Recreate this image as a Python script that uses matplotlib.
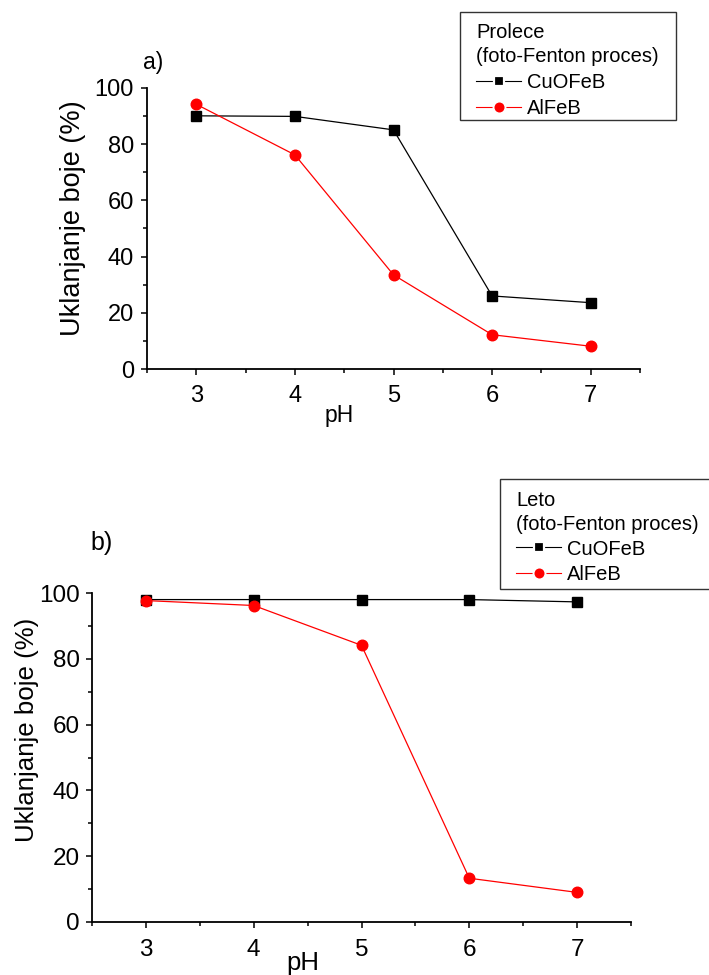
import matplotlib
matplotlib.use("Agg")
import matplotlib.pyplot as plt
from matplotlib.ticker import MultipleLocator
from matplotlib.lines import Line2D
from matplotlib.patches import Rectangle

plt.rcParams['font.family'] = ['Liberation Sans', 'DejaVu Sans']

# pH values on the x axis
ph = [3, 4, 5, 6, 7]

# a) Prolece (spring), photo-Fenton process: colour removal, %
cu_spring = [90.1, 89.9, 85.1, 26.0, 23.6]
al_spring = [94.2, 76.2, 33.5, 12.2, 8.1]

# b) Leto (summer), photo-Fenton process: colour removal, %
cu_summer = [98.0, 98.0, 98.0, 98.0, 97.3]
al_summer = [97.7, 96.2, 84.1, 13.3, 9.0]

series_names = ['CuOFeB', 'AlFeB']
legend_titles = ['Prolece\n(foto-Fenton proces)', 'Leto\n(foto-Fenton proces)']
panel_tags = ['a)', 'b)']
y_label = 'Uklanjanje boje (%)'
x_label = 'pH'

W, H = 709, 975
fig = plt.figure(figsize=(W / 100, H / 100), dpi=100)


def px_axes(left, top, right, bottom):
    return fig.add_axes([left / W, 1 - bottom / H, (right - left) / W, (bottom - top) / H])


def style_axes(ax, tick_fs, tick_pad_x, tick_pad_y):
    for side in ('top', 'right'):
        ax.spines[side].set_visible(False)
    for side in ('left', 'bottom'):
        ax.spines[side].set_linewidth(1.3)
    ax.set_xlim(2.5, 7.5)
    ax.set_ylim(0, 100)
    ax.xaxis.set_major_locator(MultipleLocator(1))
    ax.xaxis.set_minor_locator(MultipleLocator(0.5))
    ax.yaxis.set_major_locator(MultipleLocator(20))
    ax.yaxis.set_minor_locator(MultipleLocator(10))
    ax.tick_params(which='both', direction='out', width=1.1, labelsize=tick_fs)
    ax.tick_params(which='major', length=4.5)
    ax.tick_params(which='minor', length=2.8)
    ax.tick_params(axis='x', which='major', pad=tick_pad_x)
    ax.tick_params(axis='y', which='major', pad=tick_pad_y)


def draw_panel(ax, cu, al, title, frame_px, content_px, fs, spacing):
    ax.plot(ph, cu, color='black', lw=0.9, marker='s', ms=7,
            clip_on=False, zorder=3)
    ax.plot(ph, al, color='red', lw=0.9, marker='o', ms=7.6,
            clip_on=False, zorder=4)

    # legend samples: thin line broken around the marker
    handles = [
        Line2D([], [], color='black', lw=0.8, marker='s', ms=7.6,
               markerfacecolor='black', markeredgecolor='white', markeredgewidth=1.6),
        Line2D([], [], color='red', lw=0.8, marker='o', ms=8.6,
               markerfacecolor='red', markeredgecolor='white', markeredgewidth=1.4),
    ]
    x0, y0, x1, y1 = frame_px
    fig.patches.append(Rectangle((x0 / W, 1 - y1 / H), (x1 - x0) / W, (y1 - y0) / H,
                                 transform=fig.transFigure, facecolor='white',
                                 edgecolor='#333333', linewidth=1.0, zorder=5))
    leg = fig.legend(handles, series_names, title=title, loc='upper left',
                     bbox_to_anchor=(content_px[0] / W, 1 - content_px[1] / H),
                     bbox_transform=fig.transFigure, fontsize=fs, title_fontsize=fs,
                     alignment='left', frameon=False, borderpad=0, borderaxespad=0,
                     handlelength=2.25, handletextpad=0.3, labelspacing=spacing)
    leg.get_title().set_linespacing(1.3)
    leg.set_zorder(6)
    return leg


# panel a
ax_a = px_axes(147, 88, 640, 369)
style_axes(ax_a, 17, 7, 5)
draw_panel(ax_a, cu_spring, al_spring, legend_titles[0],
           (460, 12, 676, 120), (476, 23), 14.5, 0.36)
ax_a.set_ylabel(y_label, fontsize=19.5)
ax_a.yaxis.label.set_va('center')
ax_a.yaxis.set_label_coords(-0.150, 0.537)
ax_a.set_xlabel(x_label, fontsize=16.5)
ax_a.xaxis.label.set_va('center')
ax_a.xaxis.set_label_coords(0.39, -0.164)
fig.text(143 / W, 1 - 62.5 / H, panel_tags[0], fontsize=16.5, ha='left', va='center')

# panel b
ax_b = px_axes(92, 593, 631, 922)
style_axes(ax_b, 17.5, 8, 4.5)
draw_panel(ax_b, cu_summer, al_summer, legend_titles[1],
           (500, 479, 720, 589), (516, 491), 14.5, 0.3)
ax_b.set_ylabel(y_label, fontsize=18.6)
ax_b.yaxis.label.set_va('center')
ax_b.yaxis.set_label_coords(-0.121, 0.584)
ax_b.set_xlabel(x_label, fontsize=18.5)
ax_b.xaxis.label.set_va('center')
ax_b.xaxis.set_label_coords(0.392, -0.125)
fig.text(90 / W, 1 - 543 / H, panel_tags[1], fontsize=18, ha='left', va='center')

fig.savefig('out.png', dpi=100, facecolor='white')
